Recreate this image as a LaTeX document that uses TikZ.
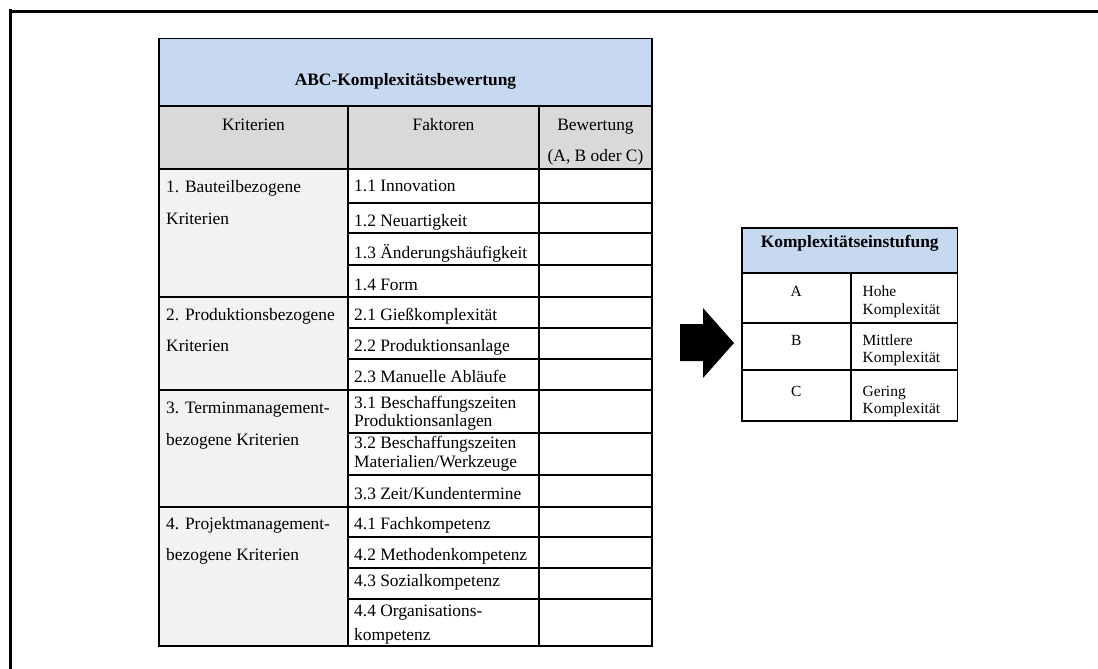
\documentclass[tikz,border=0pt]{standalone}
\usepackage{fontspec}
\setmainfont{Liberation Serif}
\definecolor{hdrblue}{HTML}{C6D9F1}
\definecolor{hdrgray}{HTML}{D9D9D9}
\definecolor{critgray}{HTML}{F2F2F2}

\begin{document}
\begin{tikzpicture}[x=1pt,y=-1pt,
  frameline/.style={line width=2.7pt},
  grid/.style={line width=1.8pt},
  txt/.style={inner sep=0pt, font=\fontsize{17.4}{18.6}\selectfont},
  lt/.style={txt, anchor=base west},
  ct/.style={txt, anchor=base},
  hdr/.style={txt, anchor=base, font=\fontsize{17.4}{18.6}\selectfont\bfseries},
  small/.style={inner sep=0pt, font=\fontsize{15.5}{17.6}\selectfont},
  slt/.style={small, anchor=base west},
  sct/.style={small, anchor=base}]

\useasboundingbox (0,0) rectangle (1098,669);

% outer frame: top and left edges only
\draw[frameline] (10.7,9.3) -- (10.7,669);
\draw[frameline] (9.3,11.3) -- (1098,11.3);

% ---------- evaluation table ----------
\fill[hdrblue]  (159,38.5) rectangle (652,106);
\fill[hdrgray]  (159,106) rectangle (652,169);
\fill[critgray] (159,169) rectangle (348,646);

\draw[grid] (159,38.5) rectangle (652,646);
\draw[grid] (159,106) -- (652,106);
\draw[grid] (159,169) -- (652,169);
\draw[grid] (348,106) -- (348,646);
\draw[grid] (539,106) -- (539,646);
% group separators across all columns
\foreach \y in {297,390,507} \draw[grid] (159,\y) -- (652,\y);
% row separators in factor and rating columns
\foreach \y in {203,233,265,328,359,433,475,537,568,599} \draw[grid] (348,\y) -- (652,\y);

\node[hdr] (title) at (405.5,85) {ABC-Komplexitätsbewertung};
\node[ct] (hKrit) at (253.5,130) {Kriterien};
\node[ct] (hFakt) at (443.5,130) {Faktoren};
\node[ct] (hBew)  at (595.5,130) {Bewertung};
\node[ct] (hBewb) at (595.5,161.7) {(A, B oder C)};

% criteria
\node[lt] (k1a) at (166,192.3) {1. Bauteilbezogene};
\node[lt] (k1b) at (166,224)   {Kriterien};
\node[lt] (k2a) at (166,320.7) {2. Produktionsbezogene};
\node[lt] (k2b) at (166,351.7) {Kriterien};
\node[lt] (k3a) at (166,413)   {3. Terminmanagement-};
\node[lt] (k3b) at (166,445)   {bezogene Kriterien};
\node[lt] (k4a) at (166,529.3) {4. Projektmanagement-};
\node[lt] (k4b) at (166,560)   {bezogene Kriterien};

% factors
\node[lt] (f11) at (354,191.7) {1.1 Innovation};
\node[lt] (f12) at (354,226) {1.2 Neuartigkeit};
\node[lt] (f13) at (354,258) {1.3 Änderungshäufigkeit};
\node[lt] (f14) at (354,290) {1.4 Form};
\node[lt] (f21) at (354,320.7) {2.1 Gießkomplexität};
\node[lt] (f22) at (354,351.7) {2.2 Produktionsanlage};
\node[lt] (f23) at (354,382.7) {2.3 Manuelle Abläufe};
\node[lt] (f31a) at (354,408.3) {3.1 Beschaffungszeiten};
\node[lt] (f31b) at (354,426.3) {Produktionsanlagen};
\node[lt] (f32a) at (354,448.3) {3.2 Beschaffungszeiten};
\node[lt] (f32b) at (354,467.3) {Materialien/Werkzeuge};
\node[lt] (f33) at (354,499.3) {3.3 Zeit/Kundentermine};
\node[lt] (f41) at (354,529.3) {4.1 Fachkompetenz};
\node[lt] (f42) at (354,560) {4.2 Methodenkompetenz};
\node[lt] (f43) at (354,586) {4.3 Sozialkompetenz};
\node[lt] (f44a) at (354,616.7) {4.4 Organisations-};
\node[lt] (f44b) at (354,640) {kompetenz};

% ---------- block arrow ----------
\fill (680,324) -- (703,324) -- (703,308) -- (734,343) -- (703,378)
      -- (703,361) -- (680,361) -- cycle;

% ---------- classification table ----------
\fill[hdrblue] (742,228) rectangle (957.5,272.7);
\draw[grid] (742,228) rectangle (957.5,421);
\draw[grid] (742,272.7) -- (957.5,272.7);
\draw[grid] (742,323) -- (957.5,323);
\draw[grid] (742,370) -- (957.5,370);
\draw[grid] (850.7,272.7) -- (850.7,421);

\node[hdr] (ktitle) at (849.7,247.3) {Komplexitätseinstufung};
\node[sct] (ca) at (796.3,296.7) {A};
\node[sct] (cb) at (796.3,345) {B};
\node[sct] (cc) at (796.3,396) {C};
\node[slt] (daa) at (862.5,296.7) {Hohe};
\node[slt] (dab) at (862.5,314.3) {Komplexität};
\node[slt] (dba) at (862.5,345) {Mittlere};
\node[slt] (dbb) at (862.5,362.7) {Komplexität};
\node[slt] (dca) at (862.5,396) {Gering};
\node[slt] (dcb) at (862.5,413.3) {Komplexität};

\end{tikzpicture}
\end{document}
